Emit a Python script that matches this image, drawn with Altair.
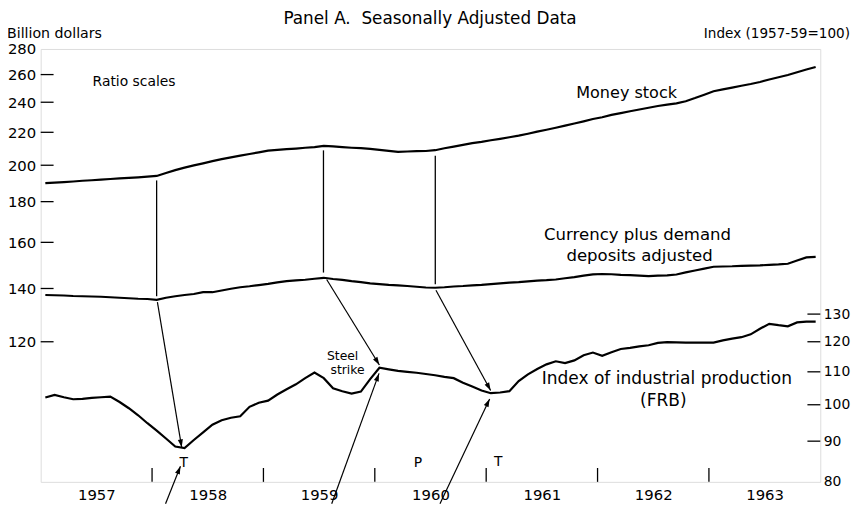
import altair as alt
import pandas as pd

FONT = "DejaVu Sans"

# ---------------- data ----------------
years = [1957, 1958, 1959, 1960, 1961, 1962, 1963]
months = [1957 + (i + 0.5) / 12 for i in range(84)]  # monthly positions, Jan 1957 .. Dec 1963

money_stock = [
    189.9, 190.2, 190.5, 190.8, 191.2, 191.5, 191.8, 192.2, 192.5, 192.8, 193.1, 193.5,
    193.9, 195.6, 197.2, 198.6, 199.9, 201.1, 202.4, 203.6, 204.6, 205.6, 206.6, 207.6,
    208.6, 209.1, 209.5, 209.9, 210.4, 210.8, 211.5, 211.2, 210.8, 210.4, 210.1, 209.7,
    209.1, 208.5, 207.9, 208.1, 208.3, 208.4, 208.9, 210.1, 211.1, 212.1, 213.2, 214.0,
    215.0, 215.9, 216.9, 217.9, 219.1, 220.4, 221.6, 222.9, 224.3, 225.7, 227.1, 228.6,
    229.8, 231.4, 232.6, 233.8, 235.0, 236.2, 237.4, 238.3, 239.2, 240.7, 242.9, 245.3,
    247.8, 249.1, 250.4, 251.7, 253.0, 254.5, 256.3, 258.0, 259.7, 261.8, 263.8, 265.8,
]
currency_demand = [
    137.4, 137.3, 137.2, 137.0, 136.9, 136.8, 136.7, 136.5, 136.3, 136.1, 135.9, 135.8,
    135.5, 136.3, 136.9, 137.4, 137.8, 138.5, 138.5, 139.2, 139.9, 140.5, 140.9, 141.4,
    141.9, 142.5, 143.0, 143.3, 143.6, 144.0, 144.4, 143.9, 143.5, 143.0, 142.6, 142.1,
    141.8, 141.5, 141.3, 141.0, 140.7, 140.4, 140.3, 140.5, 140.8, 141.0, 141.3, 141.5,
    141.8, 142.1, 142.4, 142.6, 142.9, 143.2, 143.4, 143.7, 144.2, 144.7, 145.3, 145.8,
    146.0, 145.9, 145.6, 145.5, 145.3, 145.1, 145.3, 145.4, 145.8, 146.7, 147.5, 148.3,
    149.1, 149.2, 149.3, 149.5, 149.6, 149.7, 149.9, 150.1, 150.4, 151.8, 153.2, 153.4,
]
industrial_production = [
    102.1, 102.9, 102.2, 101.6, 101.7, 102.0, 102.2, 102.4, 100.8, 99.0, 97.0, 94.8,
    92.8, 90.7, 88.6, 88.2, 90.3, 92.3, 94.4, 95.6, 96.3, 96.7, 99.4, 100.6,
    101.2, 103.0, 104.6, 106.1, 108.0, 109.8, 108.0, 104.9, 104.0, 103.3, 103.9, 107.7,
    111.3, 110.8, 110.3, 110.0, 109.7, 109.3, 108.9, 108.4, 108.0, 106.6, 105.4, 104.2,
    103.4, 103.6, 104.0, 107.1, 109.2, 110.9, 112.4, 113.4, 112.8, 113.7, 115.4, 116.3,
    115.2, 116.4, 117.5, 117.9, 118.4, 118.8, 119.6, 119.9, 119.8, 119.7, 119.7, 119.7,
    119.7, 120.5, 121.1, 121.6, 122.6, 124.6, 126.4, 125.9, 125.5, 126.9, 127.2, 127.2,
]

left_ticks = [120, 140, 160, 180, 200, 220, 240, 260, 280]
right_ticks = [80, 90, 100, 110, 120, 130]
year_ticks = [1958, 1959, 1960, 1961, 1962, 1963]

# vertical connectors (money stock -> currency) : time, top value, bottom value
conn_t = [1958.041, 1959.539, 1960.543]
conn_top = [191.4, 208.8, 205.6]
conn_bot = [136.9, 146.6, 141.7]

# arrows: start (t, v) -> tip (t, v), head angle (deg, clockwise from up)
arr_t1 = [1958.048, 1959.568, 1960.549, 1958.121, 1959.613, 1960.585]
arr_v1 = [134.6, 143.7, 139.3, 75.1, 75.1, 75.1]
arr_t2 = [1958.266, 1960.041, 1961.040, 1958.255, 1960.038, 1961.031]
arr_v2 = [88.4, 112.2, 104.2, 83.7, 109.5, 101.7]
arr_ang = [170.3, 148.6, 151.7, 22.1, 20.1, 25.5]

# annotations
ann_label = ["Money stock", "Currency plus demand", "deposits adjusted",
             "Index of industrial production", "(FRB)", "Steel", "strike",
             "Ratio scales", "T", "P", "T"]
ann_t = [1962.261, 1962.359, 1962.377, 1962.622, 1962.591, 1959.711, 1959.755,
         1957.838, 1958.284, 1960.386, 1961.108]
ann_v = [246.2, 163.5, 154.0, 107.8, 101.1, 115.0, 110.5, 254.8, 84.4, 84.4, 84.7]
ann_size = [16.2, 16.7, 16.7, 17.2, 17.2, 12.5, 12.5, 14, 14, 14, 14]

# ---------------- encodings ----------------
W, H = 787, 437
xscale = alt.Scale(domain=[1957, 1964], nice=False, zero=False)
yscale = alt.Scale(type="log", domain=[80, 280], nice=False)

xaxis = alt.Axis(values=[y + 0.5 for y in years], labelExpr="'' + floor(datum.value)",
                 ticks=False, tickSize=0, domain=False, grid=False, title=None,
                 labelPadding=6, labelFontSize=15, labelFont=FONT, labelColor="black")
yaxis = alt.Axis(values=left_ticks, format="d", ticks=False, tickSize=0, domain=False,
                 grid=False, title=None, labelPadding=5, labelFontSize=15,
                 labelFont=FONT, labelColor="black")
yaxis_r = alt.Axis(values=right_ticks, format="d", orient="right", ticks=False, tickSize=0,
                   domain=False, grid=False, title=None, labelPadding=3, labelFontSize=14,
                   labelFont=FONT, labelColor="black")


def X(f):
    return alt.X(f"{f}:Q", scale=xscale, axis=xaxis)


def Y(f):
    return alt.Y(f"{f}:Q", scale=yscale, axis=yaxis)


lines_df = pd.DataFrame({
    "t": months * 3,
    "v": money_stock + currency_demand + industrial_production,
    "series": ["Money stock"] * 84 + ["Currency plus demand deposits"] * 84 + ["Industrial production"] * 84,
})

lines = alt.Chart(lines_df).mark_line(color="black", strokeWidth=2.2).encode(
    x=X("t"), y=Y("v"), detail="series:N")

lt = alt.Chart(pd.DataFrame({"v": left_ticks[:-1]})).mark_rule(color="black", strokeWidth=1.3).encode(
    y=Y("v"), x=alt.value(0), x2=alt.value(13))

bt = alt.Chart(pd.DataFrame({"t": year_ticks})).mark_rule(color="black", strokeWidth=1.3).encode(
    x=X("t"), y=alt.value(H - 14), y2=alt.value(H))

conn = alt.Chart(pd.DataFrame({"t": conn_t, "v1": conn_top, "v2": conn_bot})).mark_rule(
    color="black", strokeWidth=1.3).encode(x=X("t"), y=Y("v1"), y2=alt.Y2("v2"))

arr_df = pd.DataFrame({"t1": arr_t1, "v1": arr_v1, "t2": arr_t2, "v2": arr_v2, "ang": arr_ang})
arrows = alt.Chart(arr_df).mark_rule(color="black", strokeWidth=1.2).encode(
    x=X("t1"), y=Y("v1"), x2=alt.X2("t2"), y2=alt.Y2("v2"))
heads = alt.Chart(arr_df).mark_point(
    shape="M0,0L-0.32,1L0.32,1Z", filled=True, color="black", opacity=1, size=260,
    strokeWidth=0).encode(x=X("t2"), y=Y("v2"), angle=alt.Angle("ang:Q", scale=None))

ann = alt.Chart(pd.DataFrame({"t": ann_t, "v": ann_v, "label": ann_label, "size": ann_size})).mark_text(
    font=FONT, color="black", align="center", baseline="middle").encode(
    x=X("t"), y=Y("v"), text="label:N", size=alt.Size("size:Q", scale=None))

title = alt.Chart(pd.DataFrame({"s": ["Panel A.\u00a0 Seasonally Adjusted Data"]})).mark_text(
    font=FONT, fontSize=17, color="black", align="center", baseline="middle").encode(
    text="s:N", x=alt.value(393), y=alt.value(-30))
ylab_l = alt.Chart(pd.DataFrame({"s": ["Billion dollars"]})).mark_text(
    font=FONT, fontSize=14.3, color="black", align="left", baseline="middle").encode(
    text="s:N", x=alt.value(-34), y=alt.value(-15))
ylab_r = alt.Chart(pd.DataFrame({"s": ["Index (1957-59=100)"]})).mark_text(
    font=FONT, fontSize=13.7, color="black", align="right", baseline="middle").encode(
    text="s:N", x=alt.value(817), y=alt.value(-15))

left = alt.layer(lines, lt, bt, conn, arrows, heads, ann, title, ylab_l, ylab_r)

right = alt.Chart(pd.DataFrame({"v": right_ticks[1:]})).mark_rule(color="black", strokeWidth=1.3).encode(
    y=alt.Y("v:Q", scale=yscale, axis=yaxis_r), x=alt.value(W - 13), x2=alt.value(W))

chart = alt.layer(left, right).resolve_scale(y="independent").properties(
    width=W, height=H,
    autosize=alt.AutoSizeParams(type="none"),
    padding={"left": 33, "top": 39, "right": 32, "bottom": 21},
).configure_view(stroke="black", strokeWidth=1.5).configure(background="white")

chart.save("out.html", embed_options={"renderer": "svg", "actions": False})
